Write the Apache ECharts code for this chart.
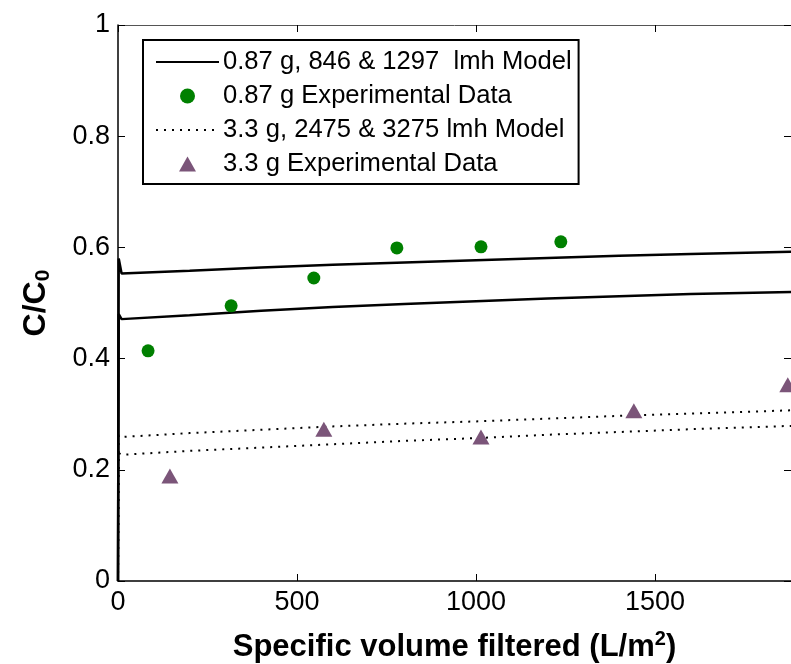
<!DOCTYPE html>
<html>
<head>
<meta charset="utf-8">
<script src="https://cdn.jsdelivr.net/npm/echarts@6/dist/echarts.min.js"></script>
<style>
  html, body { margin: 0; padding: 0; background: #fff; }
  #chart { width: 791px; height: 664px; }
</style>
</head>
<body>
<div id="chart"></div>
<script>
// Breakthrough data: C/C0 versus specific volume filtered (L/m2)
const legendNames = [
  '0.87 g, 846 & 1297  lmh Model',
  '0.87 g Experimental Data',
  '3.3 g, 2475 & 3275 lmh Model',
  '3.3 g Experimental Data'
];

// Model curves share one set of volumes
const modelVolume = [0, 2, 10, 200, 400, 600, 800, 1000, 1200, 1400, 1600, 1880];
const model087High = [0, 0.580, 0.553, 0.558, 0.564, 0.569, 0.573, 0.577, 0.581, 0.585, 0.588, 0.592];
const model087Low  = [0, 0.480, 0.471, 0.478, 0.486, 0.493, 0.498, 0.503, 0.508, 0.512, 0.516, 0.520];
const model33High  = [0, 0.262, 0.259, 0.266, 0.272, 0.278, 0.283, 0.287, 0.292, 0.297, 0.301, 0.307];
const model33Low   = [0, 0.230, 0.227, 0.234, 0.240, 0.246, 0.252, 0.257, 0.263, 0.268, 0.273, 0.279];

// Measured points
const exp087Volume = [84, 316, 547, 779, 1014, 1237];
const exp087Ratio  = [0.414, 0.495, 0.545, 0.599, 0.601, 0.610];
const exp33Volume  = [145, 575, 1014, 1441, 1871];
const exp33Ratio   = [0.189, 0.273, 0.259, 0.306, 0.353];

const xTicks = { min: 0, max: 1880, interval: 500 };
const yTicks = { min: 0, max: 1, interval: 0.2 };

const pair = (xs, ys) => xs.map((x, i) => [x, ys[i]]);

const FONT = 'Liberation Sans, Arial, Helvetica, sans-serif';
const TRIANGLE = 'path://M0,15L8.5,0L17,15Z';
const hiddenSymbol = { color: 'rgba(0,0,0,0)', borderWidth: 0 };

const chart = echarts.init(document.getElementById('chart'), null, { renderer: 'canvas' });

const solidStyle = { color: '#000', width: 2.5, type: 'solid' };
const dotStyle = { color: '#000', width: 2, type: [2, 6] };

chart.setOption({
  animation: false,
  backgroundColor: '#fff',
  grid: { left: 118, top: 25, right: 0, bottom: 83, containLabel: false, outerBoundsMode: 'none' },
  legend: {
    data: [
      { name: legendNames[0], itemStyle: hiddenSymbol },
      { name: legendNames[1], icon: 'circle' },
      { name: legendNames[2], itemStyle: hiddenSymbol },
      { name: legendNames[3], icon: TRIANGLE }
    ],
    orient: 'vertical',
    left: 143,
    top: 40,
    padding: [9, 7, 7, 12],
    itemGap: 8,
    itemWidth: 63,
    itemHeight: 15,
    symbolKeepAspect: true,
    backgroundColor: '#fff',
    borderColor: '#000',
    borderWidth: 2,
    borderRadius: 0,
    selectedMode: false,
    textStyle: { fontFamily: FONT, fontSize: 25.6, color: '#000', lineHeight: 24, padding: [0, 0, 0, -1] }
  },
  xAxis: [
    {
      type: 'value',
      min: xTicks.min, max: xTicks.max, interval: xTicks.interval,
      name: '{t|Specific volume filtered (L/m}{s|2}{t|)}',
      nameLocation: 'middle',
      nameGap: 48,
      nameTextStyle: {
        rich: {
          t: { fontFamily: FONT, fontSize: 31, fontWeight: 'bold', color: '#000' },
          s: { fontFamily: FONT, fontSize: 20, fontWeight: 'bold', color: '#000', padding: [0, 0, 16, 0] }
        }
      },
      axisLine: { show: true, onZero: false, lineStyle: { color: '#000', width: 1.5 } },
      axisTick: { show: true, inside: true, length: 7, lineStyle: { color: '#000', width: 1 } },
      axisLabel: { show: true, showMaxLabel: false, margin: 8, fontFamily: FONT, fontSize: 27, color: '#000', formatter: v => String(v) },
      splitLine: { show: false }
    },
    {
      type: 'value',
      position: 'top',
      min: xTicks.min, max: xTicks.max, interval: xTicks.interval,
      axisLine: { show: true, onZero: false, lineStyle: { color: '#555', width: 1 } },
      axisTick: { show: true, inside: true, length: 7, lineStyle: { color: '#000', width: 1 } },
      axisLabel: { show: false },
      splitLine: { show: false }
    }
  ],
  yAxis: [
    {
      type: 'value',
      min: yTicks.min, max: yTicks.max, interval: yTicks.interval,
      name: '{t|C/C}{s|0}',
      nameLocation: 'middle',
      nameGap: 64,
      nameRotate: 90,
      nameTextStyle: {
        rich: {
          t: { fontFamily: FONT, fontSize: 32, fontWeight: 'bold', color: '#000' },
          s: { fontFamily: FONT, fontSize: 21, fontWeight: 'bold', color: '#000', padding: [14, 0, 0, 0] }
        }
      },
      axisLine: { show: true, onZero: false, lineStyle: { color: '#000', width: 1.5 } },
      axisTick: { show: true, inside: true, length: 7, lineStyle: { color: '#000', width: 1 } },
      axisLabel: { show: true, margin: 8, fontFamily: FONT, fontSize: 27, color: '#000', formatter: v => String(+v.toFixed(1)) },
      splitLine: { show: false }
    },
    {
      type: 'value',
      position: 'right',
      min: yTicks.min, max: yTicks.max, interval: yTicks.interval,
      axisLine: { show: true, onZero: false, lineStyle: { color: '#000', width: 1 } },
      axisTick: { show: true, inside: true, length: 7, lineStyle: { color: '#000', width: 1 } },
      axisLabel: { show: false },
      splitLine: { show: false }
    }
  ],
  series: [
    {
      name: legendNames[0], type: 'line', data: pair(modelVolume, model087High),
      symbol: 'none', showSymbol: false, lineStyle: solidStyle, itemStyle: { color: '#000' }, z: 3
    },
    {
      name: legendNames[0], type: 'line', data: pair(modelVolume, model087Low),
      symbol: 'none', showSymbol: false, lineStyle: solidStyle, itemStyle: { color: '#000' }, z: 3
    },
    {
      name: legendNames[1], type: 'scatter', data: pair(exp087Volume, exp087Ratio),
      symbol: 'circle', symbolSize: 13, itemStyle: { color: '#008000', opacity: 1 }, z: 4
    },
    {
      name: legendNames[2], type: 'line', data: pair(modelVolume, model33High),
      symbol: 'none', showSymbol: false, lineStyle: dotStyle, itemStyle: { color: '#000' }, z: 3
    },
    {
      name: legendNames[2], type: 'line', data: pair(modelVolume, model33Low),
      symbol: 'none', showSymbol: false, lineStyle: dotStyle, itemStyle: { color: '#000' }, z: 3
    },
    {
      name: legendNames[3], type: 'scatter', data: pair(exp33Volume, exp33Ratio),
      symbol: 'triangle', symbolSize: [17, 15], itemStyle: { color: '#7B5579', opacity: 1 }, z: 4
    }
  ]
});
</script>
</body>
</html>
